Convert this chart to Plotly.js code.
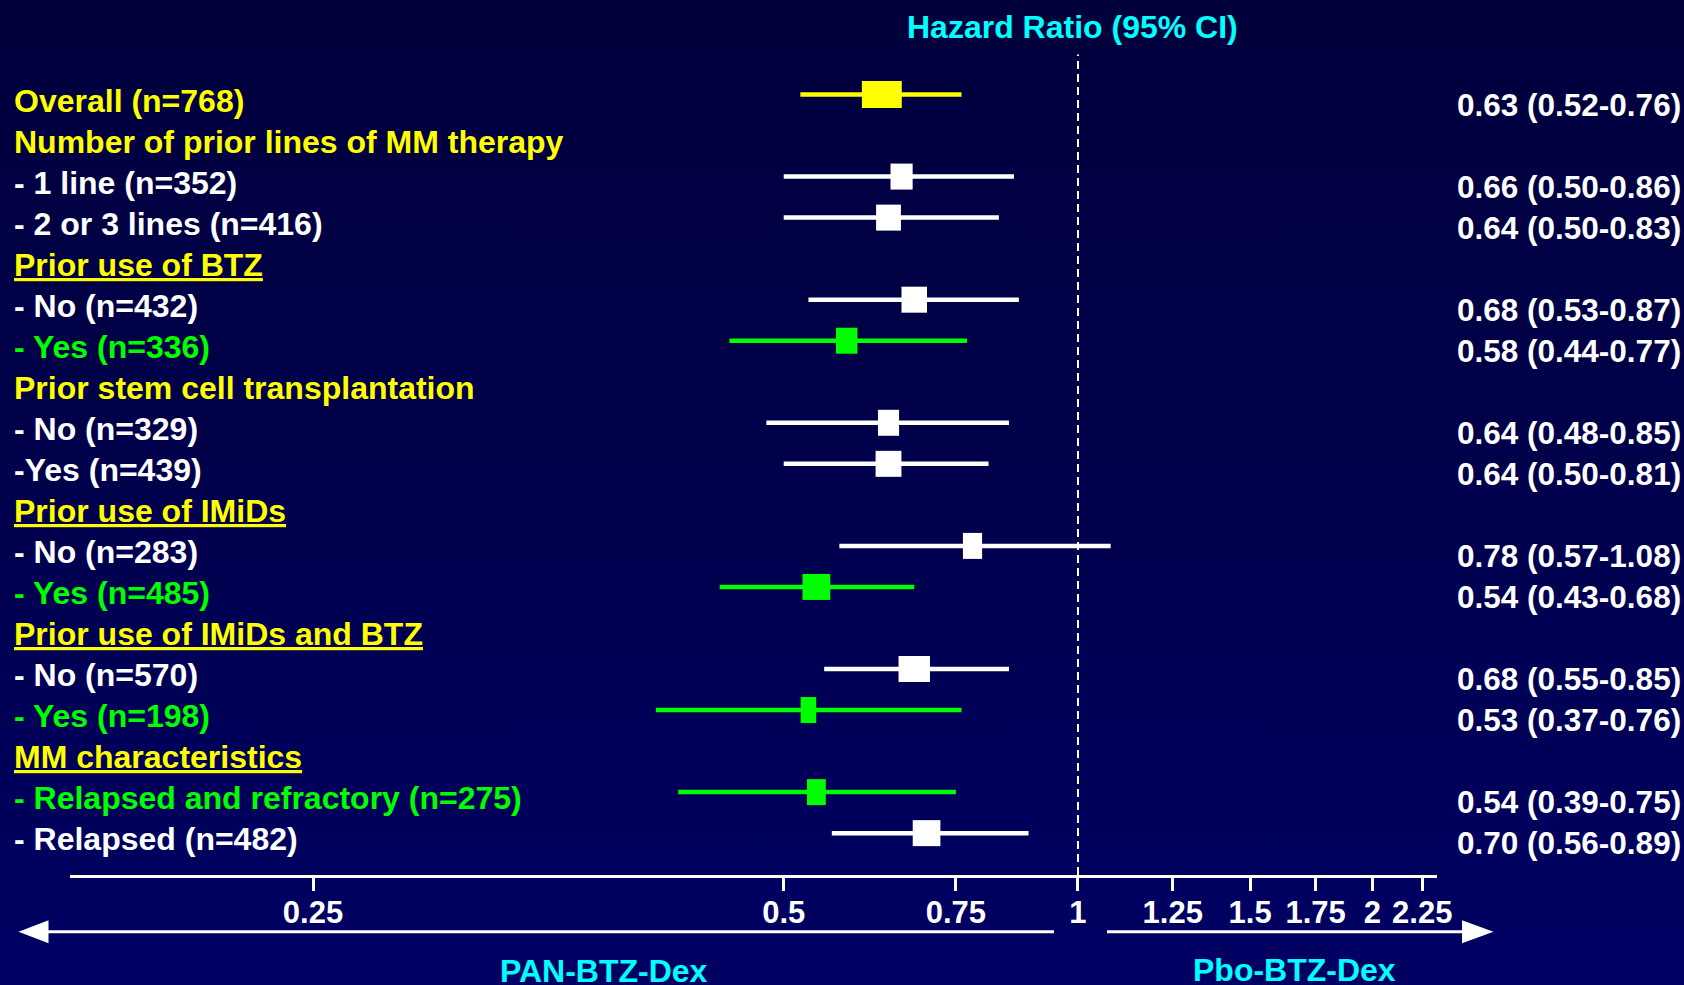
<!DOCTYPE html>
<html>
<head>
<meta charset="utf-8">
<script src="https://cdn.plot.ly/plotly-3.0.1.min.js"></script>
<style>
html, body { margin:0; padding:0; width:1684px; height:985px; overflow:hidden;
  background: linear-gradient(to bottom, #00003c 0%, #00004c 50%, #000064 100%); }
#chart { width:1684px; height:985px; }
</style>
</head>
<body>
<div id="chart"></div>
<script>
// ---------------- data ----------------
const rowLabels = [
  'Overall (n=768)',
  'Number of prior lines of MM therapy',
  '- 1 line (n=352)',
  '- 2 or 3 lines (n=416)',
  'Prior use of BTZ',
  '- No (n=432)',
  '- Yes (n=336)',
  'Prior stem cell transplantation',
  '- No (n=329)',
  '-Yes (n=439)',
  'Prior use of IMiDs',
  '- No (n=283)',
  '- Yes (n=485)',
  'Prior use of IMiDs and BTZ',
  '- No (n=570)',
  '- Yes (n=198)',
  'MM characteristics',
  '- Relapsed and refractory (n=275)',
  '- Relapsed (n=482)'
];
// row kind: overall / header / headerU (underlined header) / white / green
const rowKinds = ['overall','header','white','white','headerU','white','green','header','white','white',
  'headerU','white','green','headerU','white','green','headerU','green','white'];
const sampleSize  = [768, null, 352, 416, null, 432, 336, null, 329, 439, null, 283, 485, null, 570, 198, null, 275, 482];
const hazardRatio = [0.63, null, 0.66, 0.64, null, 0.68, 0.58, null, 0.64, 0.64, null, 0.78, 0.54, null, 0.68, 0.53, null, 0.54, 0.70];
const ciLower     = [0.52, null, 0.50, 0.50, null, 0.53, 0.44, null, 0.48, 0.50, null, 0.57, 0.43, null, 0.55, 0.37, null, 0.39, 0.56];
const ciUpper     = [0.76, null, 0.86, 0.83, null, 0.87, 0.77, null, 0.85, 0.81, null, 1.08, 0.68, null, 0.85, 0.76, null, 0.75, 0.89];
// tick labels as printed on the slide (the slide draws its "0.25" label at the ~0.165 position)
const tickLabels = ['0.25', '0.5', '0.75', '1', '1.25', '1.5', '1.75', '2', '2.25'];
const tickValues = [0.165, 0.5, 0.75, 1, 1.25, 1.5, 1.75, 2, 2.25];
const leftArmLabel = 'PAN-BTZ-Dex';
const rightArmLabel = 'Pbo-BTZ-Dex';
const chartTitle = 'Hazard Ratio (95% CI)';

// ---------------- styling / geometry ----------------
const COLORS = { overall:'#FFFF00', header:'#FFFF00', headerU:'#FFFF00', white:'#FFFFFF', green:'#00FF00' };
const CYAN = '#00FFFF';
const FONT = 'Liberation Sans, Arial, Helvetica, sans-serif';
const L = 70, R = 1437, T = 57, B = 875;
const px2x = p => (p - L) / (R - L);
const px2y = p => (B - p) / (B - T);
const BOX_H = 26;

function boxWidth(n) { return 7.1 + 0.0427 * n; }

const traces = [];
['white', 'green', 'overall'].forEach(kind => {
  const idx = rowKinds.map((k, i) => k === kind ? i : -1).filter(i => i >= 0 && hazardRatio[i] != null);
  const col = COLORS[kind];
  traces.push({
    type: 'scatter', mode: 'markers',
    x: idx.map(i => hazardRatio[i]),
    y: idx.map(i => i),
    error_x: {
      type: 'data', symmetric: false,
      array: idx.map(i => ciUpper[i] - hazardRatio[i]),
      arrayminus: idx.map(i => hazardRatio[i] - ciLower[i]),
      color: col, thickness: 4.5, width: 0
    },
    marker: {
      symbol: 'line-ew',
      size: idx.map(i => boxWidth(sampleSize[i]) / 1.4),
      color: col, opacity: 1,
      line: { width: kind === 'overall' ? 27 : BOX_H, color: col }
    },
    opacity: 1,
    hoverinfo: 'skip', showlegend: false
  });
});

const annotations = [];
rowLabels.forEach((lab, i) => {
  const kind = rowKinds[i];
  annotations.push({
    xref: 'paper', yref: 'y', x: px2x(11.5), y: i, yshift: -6,
    xanchor: 'left', yanchor: 'middle', showarrow: false,
    text: kind === 'headerU' ? '<u>' + lab + '</u>' : lab,
    font: { family: FONT, size: 32, weight: 700, color: COLORS[kind] }
  });
  if (hazardRatio[i] != null) {
    annotations.push({
      xref: 'paper', yref: 'y', x: px2x(1683), y: i, yshift: -10,
      xanchor: 'right', yanchor: 'middle', showarrow: false,
      text: hazardRatio[i].toFixed(2) + ' (' + ciLower[i].toFixed(2) + '-' + ciUpper[i].toFixed(2) + ')',
      font: { family: FONT, size: 31.5, weight: 700, color: '#FFFFFF' }
    });
  }
});
annotations.push({
  xref: 'paper', yref: 'paper', x: px2x(1072), y: px2y(27), xanchor: 'center', yanchor: 'middle',
  showarrow: false, text: chartTitle, font: { family: FONT, size: 32, weight: 700, color: CYAN }
});
annotations.push({
  xref: 'paper', yref: 'paper', x: px2x(604), y: px2y(971), xanchor: 'center', yanchor: 'middle',
  showarrow: false, text: leftArmLabel, font: { family: FONT, size: 32, weight: 700, color: CYAN }
});
annotations.push({
  xref: 'paper', yref: 'paper', x: px2x(1294.4), y: px2y(969.5), xanchor: 'center', yanchor: 'middle',
  showarrow: false, text: rightArmLabel, font: { family: FONT, size: 32, weight: 700, color: CYAN }
});

function pathPx(pts) {
  return 'M' + pts.map(p => px2x(p[0]) + ',' + px2y(p[1])).join(' L') + ' Z';
}
const AY = 931.7;
const shapes = [
  { type: 'line', xref: 'x', yref: 'paper', x0: 1, x1: 1, y0: 0, y1: 1.003,
    line: { color: '#FFFFFF', width: 2, dash: '8px,5px' } },
  { type: 'line', xref: 'paper', yref: 'paper', x0: px2x(46), x1: px2x(1054), y0: px2y(AY), y1: px2y(AY),
    line: { color: '#FFFFFF', width: 3 } },
  { type: 'line', xref: 'paper', yref: 'paper', x0: px2x(1107), x1: px2x(1464), y0: px2y(AY), y1: px2y(AY),
    line: { color: '#FFFFFF', width: 3 } },
  { type: 'path', xref: 'paper', yref: 'paper', path: pathPx([[18.5, AY], [48.5, AY - 11.5], [48.5, AY + 11.5]]),
    fillcolor: '#FFFFFF', line: { width: 0 } },
  { type: 'path', xref: 'paper', yref: 'paper', path: pathPx([[1493.5, AY], [1462, AY - 11.5], [1462, AY + 11.5]]),
    fillcolor: '#FFFFFF', line: { width: 0 } }
];

const layout = {
  width: 1684, height: 985,
  margin: { l: L, r: 1684 - R, t: T, b: 985 - B, pad: 0 },
  paper_bgcolor: 'rgba(0,0,0,0)', plot_bgcolor: 'rgba(0,0,0,0)',
  showlegend: false, hovermode: false,
  xaxis: {
    type: 'log', range: [-1.0311, 0.36724], autorange: false, fixedrange: true,
    tickmode: 'array', tickvals: tickValues, ticktext: tickLabels,
    showgrid: false, zeroline: false,
    showline: true, linecolor: '#FFFFFF', linewidth: 3,
    ticks: 'outside', ticklen: 13, tickwidth: 3, tickcolor: '#FFFFFF',
    tickfont: { family: FONT, size: 31, weight: 700, color: '#FFFFFF' },
    ticklabelstandoff: -5
  },
  yaxis: {
    range: [19.02, -0.914], autorange: false, fixedrange: true,
    showgrid: false, zeroline: false, showline: false, showticklabels: false, ticks: ''
  },
  annotations: annotations,
  shapes: shapes
};

Plotly.newPlot('chart', traces, layout, { displayModeBar: false, staticPlot: true });
</script>
</body>
</html>
